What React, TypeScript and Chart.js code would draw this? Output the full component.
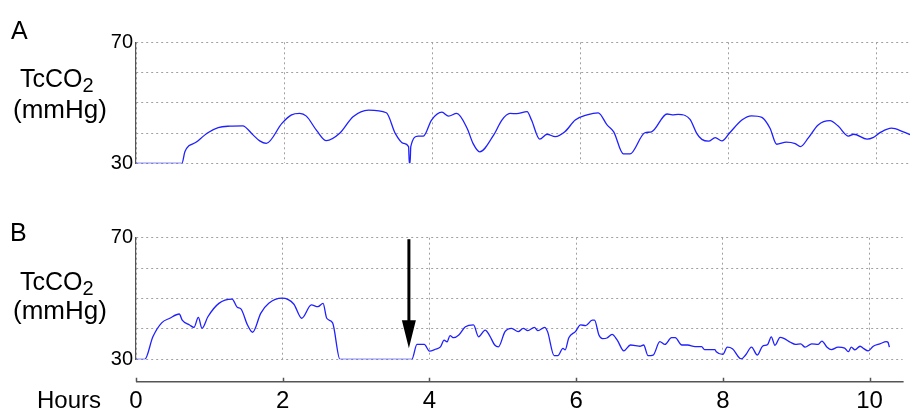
import React, { useEffect, useRef } from "react";
import { Chart, registerables } from "chart.js";

Chart.register(...registerables);

const FONT = "Arial, 'Liberation Sans', Helvetica, sans-serif";
const LINE_COLOR = "#1f1fff";
const GRID_COLOR = "#a0a0a0";
const AXIS_COLOR = "#555555";

// ---- data ----
const hoursA = [0, 0.62, 0.66, 0.82, 0.97, 1.11, 1.27, 1.44, 1.58, 1.67, 1.76, 1.97, 2.10, 2.21, 2.30, 2.44, 2.57, 2.75, 2.93, 3.14, 3.38, 3.50, 3.61, 3.68, 3.69, 3.70, 3.71, 3.81, 3.88, 3.99, 4.13, 4.22, 4.33, 4.47, 4.55, 4.64, 4.83, 4.94, 5.05, 5.14, 5.28, 5.34, 5.45, 5.55, 5.66, 5.79, 5.93, 6.09, 6.24, 6.36, 6.45, 6.58, 6.67, 6.87, 6.96, 7.17, 7.24, 7.32, 7.48, 7.57, 7.64, 7.73, 7.82, 7.91, 8.02, 8.18, 8.31, 8.45, 8.56, 8.65, 8.78, 8.90, 8.97, 9.08, 9.21, 9.37, 9.48, 9.62, 9.69, 9.87, 9.95, 10.05, 10.20, 10.36, 10.46];
const tcco2A = [30, 30, 33.8, 37.1, 40.1, 41.8, 42.3, 42.4, 39.4, 37.4, 36.6, 43.2, 46.0, 46.5, 45.6, 40.8, 37.5, 39.9, 45.4, 47.6, 46.7, 39.9, 36.6, 35.5, 30, 30, 35.5, 39.0, 39.0, 44.3, 46.9, 45.6, 46.5, 41.6, 36.6, 33.8, 39.4, 44.3, 46.5, 46.4, 47.1, 44.3, 38.0, 39.6, 38.8, 40.4, 44.3, 46.0, 46.7, 42.7, 40.4, 33.1, 33.1, 40.1, 40.4, 46.3, 46.0, 46.2, 44.5, 39.9, 37.9, 37.3, 38.5, 37.4, 40.2, 44.3, 45.7, 45.2, 41.6, 36.3, 37.0, 36.5, 35.5, 38.5, 42.7, 44.1, 42.3, 39.0, 39.6, 38.0, 38.5, 40.2, 41.6, 40.4, 39.4];

const hoursB = [0, 0.12, 0.23, 0.35, 0.46, 0.59, 0.63, 0.73, 0.79, 0.85, 0.90, 0.98, 1.13, 1.31, 1.38, 1.43, 1.52, 1.59, 1.70, 1.81, 1.99, 2.15, 2.26, 2.39, 2.48, 2.55, 2.60, 2.68, 2.78, 3.76, 3.83, 3.93, 4.00, 4.08, 4.15, 4.20, 4.24, 4.28, 4.33, 4.40, 4.49, 4.60, 4.67, 4.76, 4.82, 4.89, 4.94, 5.03, 5.12, 5.21, 5.28, 5.34, 5.43, 5.48, 5.57, 5.61, 5.70, 5.75, 5.82, 5.85, 5.90, 5.99, 6.06, 6.13, 6.22, 6.25, 6.31, 6.36, 6.42, 6.49, 6.56, 6.65, 6.74, 6.81, 6.87, 6.92, 6.98, 7.05, 7.14, 7.21, 7.30, 7.35, 7.44, 7.52, 7.62, 7.71, 7.75, 7.89, 7.91, 8.00, 8.06, 8.13, 8.25, 8.31, 8.39, 8.47, 8.54, 8.61, 8.66, 8.71, 8.78, 8.83, 8.92, 8.99, 9.06, 9.12, 9.21, 9.30, 9.35, 9.42, 9.48, 9.57, 9.66, 9.71, 9.75, 9.80, 9.87, 9.92, 9.98, 10.05, 10.14, 10.23, 10.25, 10.27];
const tcco2B = [30, 30, 37.4, 42.0, 43.5, 44.9, 42.9, 41.3, 40.5, 43.8, 40.2, 44.0, 48.4, 49.8, 47.1, 46.6, 41.3, 38.9, 45.1, 48.4, 50.1, 48.2, 43.5, 47.9, 47.3, 48.4, 43.5, 42.0, 30, 30, 34.9, 34.9, 32.7, 33.3, 34.1, 36.3, 35.7, 37.8, 37.1, 38.0, 40.7, 41.3, 37.4, 39.6, 37.8, 34.7, 34.1, 39.1, 40.2, 39.1, 40.2, 39.4, 40.5, 39.4, 40.5, 39.1, 31.2, 31.2, 33.6, 33.1, 37.1, 39.1, 41.3, 41.1, 42.9, 42.9, 38.0, 36.8, 37.0, 38.2, 36.3, 32.8, 34.7, 34.5, 34.3, 34.7, 31.2, 31.4, 35.8, 34.9, 37.1, 37.1, 34.7, 34.7, 34.2, 34.2, 33.2, 33.2, 32.5, 31.6, 34.0, 33.5, 30.1, 31.4, 34.0, 31.4, 34.3, 34.9, 37.4, 34.6, 37.2, 36.9, 35.6, 34.9, 35.1, 34.0, 35.1, 34.9, 36.0, 34.0, 33.2, 34.0, 33.7, 32.5, 34.0, 33.1, 34.3, 33.5, 32.8, 34.3, 35.1, 35.8, 35.6, 34.0];

const yTicksShown = [30, 70];
const yRange = [30, 70];
const yStep = 10;
const xRange = [0, 10.45];
const xStep = 2;

// arrow marking intervention in panel B (hour, from value, to value)
const arrowHour = 3.72;
const arrowFrom = 69.5;
const arrowTo = 33.6;

const bottomAxisPlugin = {
  id: "bottomAxis",
  afterDraw(chart: any) {
    const { ctx, chartArea, scales } = chart;
    const xs = scales.x;
    const y = chartArea.bottom + 22.4;
    ctx.save();
    ctx.strokeStyle = AXIS_COLOR;
    ctx.lineWidth = 1.5;
    ctx.beginPath();
    ctx.moveTo(chartArea.left, y);
    ctx.lineTo(chartArea.right + 1, y);
    xs.ticks.forEach((t: any) => {
      const px = Math.round(xs.getPixelForValue(t.value)) + 0.5;
      ctx.moveTo(px, y);
      ctx.lineTo(px, y - 4);
    });
    ctx.stroke();
    ctx.restore();
  },
};

const arrowPlugin = {
  id: "arrow",
  afterDatasetsDraw(chart: any) {
    const { ctx, scales } = chart;
    const x = scales.x.getPixelForValue(arrowHour);
    const y0 = scales.y.getPixelForValue(arrowFrom);
    const y1 = scales.y.getPixelForValue(arrowTo);
    const headLen = 28;
    const halfW = 7;
    ctx.save();
    ctx.strokeStyle = "#000";
    ctx.fillStyle = "#000";
    ctx.lineWidth = 3;
    ctx.beginPath();
    ctx.moveTo(x, y0);
    ctx.lineTo(x, y1 - headLen + 2);
    ctx.stroke();
    ctx.beginPath();
    ctx.moveTo(x - halfW, y1 - headLen);
    ctx.lineTo(x + halfW, y1 - headLen);
    ctx.lineTo(x, y1);
    ctx.closePath();
    ctx.fill();
    ctx.restore();
  },
};

function buildConfig(hours: number[], values: number[], isB: boolean): any {
  const points = hours.map((h, i) => ({ x: h, y: values[i] }));
  return {
    type: "line",
    data: {
      datasets: [
        {
          data: points,
          borderColor: LINE_COLOR,
          borderWidth: 1.3,
          pointRadius: 0,
          cubicInterpolationMode: "monotone",
          fill: false,
        },
      ],
    },
    options: {
      animation: false,
      responsive: false,
      events: [],
      layout: {
        padding: { left: 0, right: 1, top: isB ? 37.7 : 42.3, bottom: isB ? 0 : 36.7 },
      },
      plugins: { legend: { display: false }, tooltip: { enabled: false } },
      scales: {
        x: {
          type: "linear",
          min: xRange[0],
          max: xRange[1],
          border: { display: false, dash: [2, 3] },
          grid: { color: GRID_COLOR, lineWidth: 1, drawTicks: false },
          ticks: {
            display: isB,
            stepSize: xStep,
            includeBounds: false,
            autoSkip: false,
            maxRotation: 0,
            padding: 28,
            color: "#000",
            font: { family: FONT, size: 24 },
          },
          afterFit: (s: any) => {
            s.height = isB ? 50.7 : 0;
          },
        },
        y: {
          min: yRange[0],
          max: yRange[1],
          border: { display: true, color: AXIS_COLOR, width: 1.2, dash: [2, 3] },
          grid: { color: GRID_COLOR, lineWidth: 1, drawTicks: false },
          ticks: {
            stepSize: yStep,
            padding: 3,
            color: "#000",
            font: { family: FONT, size: 20 },
            callback: (v: any) => (yTicksShown.includes(Number(v)) ? String(v) : ""),
          },
          afterFit: (s: any) => {
            s.width = 136;
          },
        },
      },
    },
    plugins: isB ? [bottomAxisPlugin, arrowPlugin] : [],
  };
}

function Panel(props: { hours: number[]; values: number[]; isB: boolean; top: number; height: number }) {
  const ref = useRef<HTMLCanvasElement>(null);
  useEffect(() => {
    const chart = new Chart(ref.current as HTMLCanvasElement, buildConfig(props.hours, props.values, props.isB));
    return () => chart.destroy();
  }, []);
  return (
    <canvas
      ref={ref}
      width={911}
      height={props.height}
      style={{ position: "absolute", left: 0, top: props.top, width: 911, height: props.height, display: "block" }}
    />
  );
}

function Label(props: { left: number; top: number; size: number; children: any }) {
  return (
    <div
      style={{
        position: "absolute",
        left: props.left,
        top: props.top,
        fontSize: props.size,
        lineHeight: `${props.size}px`,
        fontFamily: FONT,
        color: "#000",
        whiteSpace: "nowrap",
      }}
    >
      {props.children}
    </div>
  );
}

function YTitle(props: { top1: number; top2: number }) {
  return (
    <>
      <Label left={20} top={props.top1} size={25}>
        TcCO<span style={{ fontSize: 20, position: "relative", top: 5 }}>2</span>
      </Label>
      <Label left={13} top={props.top2} size={26}>
        (mmHg)
      </Label>
    </>
  );
}

export default function App() {
  return (
    <div style={{ position: "absolute", left: 0, top: 0, width: 911, height: 410, background: "#fff", overflow: "hidden" }}>
      <Panel hours={hoursA} values={tcco2A} isB={false} top={0} height={200} />
      <Panel hours={hoursB} values={tcco2B} isB={true} top={200} height={210} />
      <Label left={11} top={18} size={25}>A</Label>
      <Label left={10} top={220} size={25}>B</Label>
      <YTitle top1={66} top2={96} />
      <YTitle top1={268.5} top2={297} />
      <Label left={37} top={388} size={24}>Hours</Label>
    </div>
  );
}
